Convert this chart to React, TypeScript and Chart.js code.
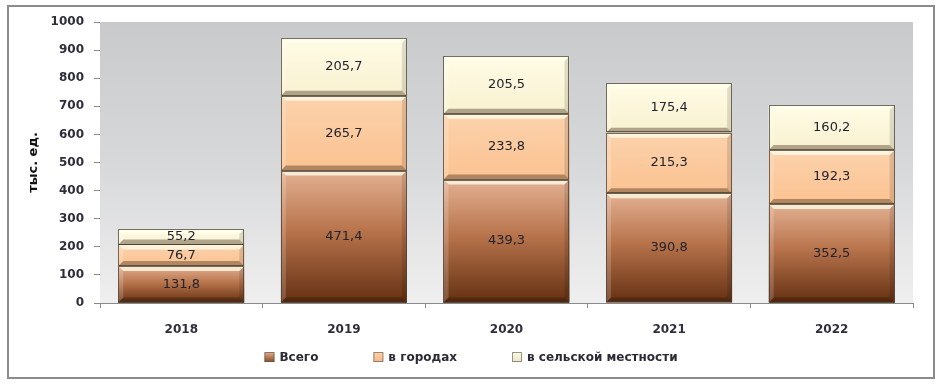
import React, { useEffect, useRef } from "react";
import { Chart, registerables } from "chart.js";

Chart.register(...registerables);

const years = ["2018", "2019", "2020", "2021", "2022"];
const total = [131.8, 471.4, 439.3, 390.8, 352.5];
const urban = [76.7, 265.7, 233.8, 215.3, 192.3];
const rural = [55.2, 205.7, 205.5, 175.4, 160.2];
const seriesNames = ["Всего", "в городах", "в сельской местности"];
const yMin = 0;
const yMax = 1000;
const yStep = 100;
const yTitle = "тыс. ед.";

const seriesData = [total, urban, rural];

const gradStops: [number, string][][] = [
  [
    [0, "#e3b193"],
    [0.45, "#b8744c"],
    [1, "#643012"],
  ],
  [
    [0, "#fcd2ac"],
    [1, "#fbc291"],
  ],
  [
    [0, "#fffce6"],
    [1, "#f8f1d0"],
  ],
];
const legendColors = ["#8a4a26", "#f6b98a", "#e6e3c8"];

const FONT = "'DejaVu Sans', Verdana, sans-serif";

function makeGradient(di: number) {
  return (c: any) => {
    const chart = c.chart;
    const ys = chart.scales && chart.scales.y;
    if (c.type !== "data" || !ys || !chart.chartArea) return gradStops[di][0][1];
    const i = c.dataIndex;
    let start = 0;
    for (let k = 0; k < di; k++) start += seriesData[k][i];
    const end = start + seriesData[di][i];
    const y0 = ys.getPixelForValue(start);
    const y1 = ys.getPixelForValue(end);
    if (!isFinite(y0) || !isFinite(y1) || y0 === y1) return gradStops[di][0][1];
    const g = chart.ctx.createLinearGradient(0, y1, 0, y0);
    gradStops[di].forEach(([o, col]) => g.addColorStop(o, col));
    return g;
  };
}

const bgPlugin = {
  id: "plotBg",
  beforeDatasetsDraw(chart: any) {
    const { ctx, chartArea: a } = chart;
    const g = ctx.createLinearGradient(0, a.top, 0, a.bottom);
    g.addColorStop(0, "#c9cacc");
    g.addColorStop(0.5, "#d7d8da");
    g.addColorStop(1, "#efefef");
    ctx.save();
    ctx.fillStyle = g;
    ctx.fillRect(a.left, a.top, a.right - a.left, a.bottom - a.top);
    ctx.restore();
  },
};

const bevelPlugin = {
  id: "bevel",
  afterDatasetsDraw(chart: any) {
    const ctx = chart.ctx;
    chart.data.datasets.forEach((_ds: any, di: number) => {
      const meta = chart.getDatasetMeta(di);
      meta.data.forEach((bar: any) => {
        const { x, y, base, width } = bar.getProps(["x", "y", "base", "width"], true);
        const l = x - width / 2;
        const r = x + width / 2;
        const t = Math.min(y, base);
        const b = Math.max(y, base);
        const bw = Math.min(5, (b - t) / 3);
        const poly = (pts: number[][], col: string) => {
          ctx.beginPath();
          ctx.moveTo(pts[0][0], pts[0][1]);
          for (let k = 1; k < pts.length; k++) ctx.lineTo(pts[k][0], pts[k][1]);
          ctx.closePath();
          ctx.fillStyle = col;
          ctx.fill();
        };
        ctx.save();
        poly([[l, t], [r, t], [r - bw, t + bw], [l + bw, t + bw]], "rgba(255,255,235,0.75)");
        poly([[l, t], [l + bw, t + bw], [l + bw, b - bw], [l, b]], "rgba(255,255,255,0.18)");
        poly([[r, t], [r - bw, t + bw], [r - bw, b - bw], [r, b]], "rgba(0,0,0,0.12)");
        poly([[l, b], [l + bw, b - bw], [r - bw, b - bw], [r, b]], "rgba(40,20,0,0.35)");
        ctx.strokeStyle = "rgba(70,60,50,0.75)";
        ctx.lineWidth = 1;
        ctx.strokeRect(Math.round(l) + 0.5, Math.round(t) + 0.5, Math.round(r - l) - 1, Math.round(b - t) - 1);
        ctx.restore();
      });
    });
  },
};

const labelPlugin = {
  id: "valueLabels",
  afterDatasetsDraw(chart: any) {
    const ctx = chart.ctx;
    ctx.save();
    ctx.font = `400 13px ${FONT}`;
    ctx.fillStyle = "#23232d";
    ctx.textAlign = "center";
    ctx.textBaseline = "middle";
    chart.data.datasets.forEach((ds: any, di: number) => {
      const meta = chart.getDatasetMeta(di);
      meta.data.forEach((bar: any, i: number) => {
        const { x, y, base } = bar.getProps(["x", "y", "base"], true);
        const v = ds.data[i];
        ctx.fillText(v.toFixed(1).replace(".", ","), x, (y + base) / 2);
      });
    });
    ctx.restore();
  },
};

const legendPlugin = {
  id: "customLegend",
  afterDraw(chart: any) {
    const ctx = chart.ctx;
    ctx.save();
    ctx.font = `700 12px ${FONT}`;
    ctx.textBaseline = "middle";
    ctx.textAlign = "left";
    const box = 10;
    const gap = 5;
    const spacing = 55;
    const widths = seriesNames.map((n) => box + gap + ctx.measureText(n).width);
    const totalW = widths.reduce((s, w) => s + w, 0) + spacing * (widths.length - 1);
    let x = chart.width / 2 - totalW / 2;
    const yc = 357;
    seriesNames.forEach((n, i) => {
      const g = ctx.createLinearGradient(0, yc - box / 2, 0, yc + box / 2);
      g.addColorStop(0, gradStops[i][0][1]);
      g.addColorStop(1, legendColors[i]);
      ctx.fillStyle = g;
      ctx.fillRect(x, yc - box / 2, box, box);
      ctx.strokeStyle = "rgba(90,80,70,0.6)";
      ctx.lineWidth = 1;
      ctx.strokeRect(x + 0.5, yc - box / 2 + 0.5, box - 1, box - 1);
      ctx.fillStyle = "#2a2a35";
      ctx.fillText(n, x + box + gap, yc + 1);
      x += widths[i] + spacing;
    });
    ctx.restore();
  },
};

export default function App() {
  const ref = useRef<HTMLCanvasElement | null>(null);
  useEffect(() => {
    if (!ref.current) return;
    const chart = new Chart(ref.current, {
      type: "bar",
      data: {
        labels: years,
        datasets: seriesData.map((d, di) => ({
          label: seriesNames[di],
          data: d,
          backgroundColor: makeGradient(di),
          borderWidth: 0,
          barPercentage: 0.775,
          categoryPercentage: 1,
        })),
      },
      options: {
        animation: false,
        responsive: false,
        devicePixelRatio: 1,
        layout: { padding: { left: 26, top: 22, right: 29, bottom: 0 } },
        plugins: {
          legend: { display: false },
          tooltip: { enabled: false },
        },
        scales: {
          x: {
            stacked: true,
            grid: {
              offset: true,
              drawOnChartArea: false,
              tickLength: 5,
              color: "#8a8a8a",
            },
            border: { color: "#8a8a8a", width: 1 },
            ticks: {
              padding: 15,
              color: "#2e2e3c",
              font: { family: FONT, size: 12, weight: "bold" },
            },
            afterFit: (s: any) => {
              s.height = 82;
            },
          },
          y: {
            stacked: true,
            min: yMin,
            max: yMax,
            ticks: {
              stepSize: yStep,
              padding: 10,
              color: "#2e2e3c",
              font: { family: FONT, size: 12, weight: "bold" },
              callback: (v: any) => String(v),
            },
            grid: {
              drawOnChartArea: false,
              tickLength: 6,
              color: "#8a8a8a",
            },
            border: { color: "#8a8a8a", width: 1 },
            title: {
              display: true,
              text: yTitle,
              color: "#111",
              padding: { top: 0, bottom: 0 },
              font: { family: FONT, size: 13, weight: "bold" },
            },
            afterFit: (s: any) => {
              s.width = 74;
            },
          },
        },
      },
      plugins: [bgPlugin, bevelPlugin, labelPlugin, legendPlugin],
    } as any);
    return () => chart.destroy();
  }, []);

  return (
    <div style={{ position: "fixed", left: 0, top: 0, width: 942, height: 385, background: "#fff" }}>
      <div
        style={{
          position: "absolute",
          left: 7,
          top: 5,
          width: 924,
          height: 370,
          border: "2px solid #8c8c8c",
        }}
      />
      <canvas ref={ref} width={942} height={385} style={{ position: "absolute", left: 0, top: 0, width: 942, height: 385 }} />
    </div>
  );
}
